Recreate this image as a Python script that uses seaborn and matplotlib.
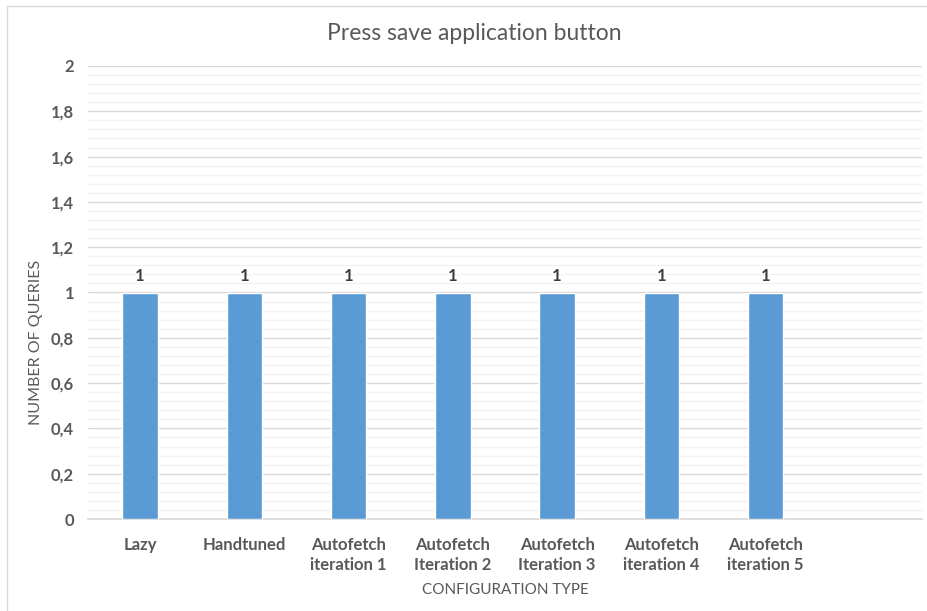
import matplotlib
matplotlib.use("Agg")
import matplotlib.pyplot as plt
import seaborn as sns
import pandas as pd
from matplotlib.ticker import MultipleLocator, FuncFormatter
from matplotlib.patches import Rectangle

categories = ["Lazy", "Handtuned", "Autofetch\niteration 1", "Autofetch\nIteration 2",
              "Autofetch\nIteration 3", "Autofetch\niteration 4", "Autofetch\niteration 5"]
queries = [1, 1, 1, 1, 1, 1, 1]
title = "Press save application button"
x_label = "CONFIGURATION TYPE"
y_label = "NUMBER OF QUERIES"

sns.set_theme(style="white")
plt.rcParams["font.family"] = ["Lato", "DejaVu Sans"]

df = pd.DataFrame({"config": categories, "queries": queries})

fig = plt.figure(figsize=(9.28, 6.11), dpi=100)
ax = fig.add_axes([88 / 928, 1 - 519 / 611, (922 - 88) / 928, (519 - 66) / 611])

sns.barplot(data=df, x="config", y="queries", color="#5B9BD5", width=0.34,
            saturation=1, ax=ax, zorder=3)

ax.set_xlim(-0.5, 7.5)
ax.set_ylim(0, 2)
ax.yaxis.set_major_locator(MultipleLocator(0.2))
ax.yaxis.set_minor_locator(MultipleLocator(0.04))
ax.yaxis.set_major_formatter(FuncFormatter(lambda v, p: f"{v:.1f}".replace(".", ",").replace(",0", "")))
ax.grid(which="major", axis="y", color="#D9D9D9", linewidth=1.0, zorder=0)
ax.grid(which="minor", axis="y", color="#F2F2F2", linewidth=1.0, zorder=0)
ax.grid(which="major", axis="x", visible=False)

for s in ["top", "right", "left"]:
    ax.spines[s].set_visible(False)
ax.spines["bottom"].set_color("#D9D9D9")
ax.spines["bottom"].set_linewidth(1.2)

ax.tick_params(axis="both", which="both", length=0)
ax.tick_params(axis="y", pad=10)
ax.tick_params(axis="x", pad=13)
for lab in ax.get_yticklabels():
    lab.set_fontweight("bold"); lab.set_color("#595959"); lab.set_fontsize(12)
for lab in ax.get_xticklabels():
    lab.set_fontweight("bold"); lab.set_color("#595959"); lab.set_fontsize(12)
    lab.set_linespacing(1.3)

for cont in ax.containers:
    ax.bar_label(cont, labels=[str(v) for v in queries], padding=6,
                 fontsize=12, fontweight="bold", color="#404040")

ax.set_xlabel(x_label, fontsize=11, color="#595959", labelpad=7)
ax.set_ylabel(y_label, fontsize=11.5, color="#595959")
ax.yaxis.set_label_coords(-45 / 834, 1 - (342 - 66) / 453)
fig.text(474 / 928, 1 - 33 / 611, title, ha="center", va="center",
         fontsize=16.5, color="#595959")

fig.patches.append(Rectangle((7 / 928, -0.05), 1.1, 1 - 6 / 611 + 0.05,
                             transform=fig.transFigure, fill=False,
                             edgecolor="#D9D9D9", linewidth=1.0))

fig.savefig("out.png", dpi=100)
